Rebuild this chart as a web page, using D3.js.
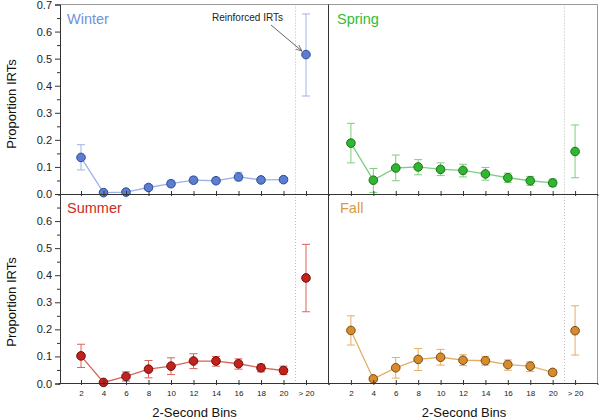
<!DOCTYPE html>
<html><head><meta charset="utf-8">
<script src="https://cdn.jsdelivr.net/npm/d3@7"></script>
<style>html,body{margin:0;padding:0;background:#fff;}svg{display:block;font-family:"Liberation Sans",Arial,sans-serif;}</style>
</head><body><svg id="c" width="600" height="420"></svg>
<script>
const bins = ["2","4","6","8","10","12","14","16","18","20","> 20"];
const yTicks = [0,0.1,0.2,0.3,0.4,0.5,0.6,0.7];
const seasons = ["Winter","Spring","Summer","Fall"];

const winterVals = [0.135,0.005,0.007,0.024,0.038,0.051,0.049,0.063,0.052,0.053,0.515];
const winterLo   = [0.089,0.002,0.003,0.014,0.028,0.042,0.041,0.049,0.045,0.045,0.362];
const winterHi   = [0.182,0.008,0.011,0.035,0.050,0.063,0.060,0.080,0.060,0.062,0.665];

const springVals = [0.188,0.051,0.096,0.100,0.091,0.087,0.074,0.060,0.049,0.041,0.157];
const springLo   = [0.115,0.006,0.049,0.071,0.068,0.063,0.051,0.043,0.032,0.028,0.060];
const springHi   = [0.261,0.094,0.144,0.127,0.115,0.110,0.098,0.077,0.065,0.055,0.255];

const summerVals = [0.102,0.004,0.026,0.053,0.064,0.083,0.083,0.073,0.058,0.048,0.390];
const summerLo   = [0.059,0.002,0.009,0.021,0.033,0.055,0.064,0.053,0.043,0.033,0.265];
const summerHi   = [0.145,0.006,0.043,0.085,0.095,0.110,0.100,0.091,0.071,0.064,0.514];

const fallVals = [0.196,0.017,0.058,0.089,0.097,0.086,0.084,0.070,0.064,0.041,0.195];
const fallLo   = [0.142,0.014,0.020,0.048,0.068,0.066,0.068,0.049,0.044,0.030,0.105];
const fallHi   = [0.250,0.020,0.096,0.129,0.126,0.106,0.100,0.087,0.080,0.052,0.287];

const annotationText = "Reinforced IRTs";
const yLabel = "Proportion IRTs";
const xLabel = "2-Second Bins";

const svg = d3.select("#c");

const panels = [
  {name:"Winter", vals:winterVals, lo:winterLo, hi:winterHi, col:0, row:0,
   text:"#6f93dc", line:"#9db3e6", fill:"#5b7ed1", stroke:"#2d4a95", lx:7},
  {name:"Spring", vals:springVals, lo:springLo, hi:springHi, col:1, row:0,
   text:"#33bb33", line:"#7dcf7d", fill:"#2fb82f", stroke:"#1b6e1b", lx:7},
  {name:"Summer", vals:summerVals, lo:summerLo, hi:summerHi, col:0, row:1,
   text:"#cc2b22", line:"#d9645a", fill:"#c4211b", stroke:"#6e1010", lx:7},
  {name:"Fall", vals:fallVals, lo:fallLo, hi:fallHi, col:1, row:1,
   text:"#d99a45", line:"#e6ad64", fill:"#d68b2c", stroke:"#7a4a10", lx:10}
];

const colX = [[58.5,328.5],[328.5,597.5]];
const rowY = [[194,4.5],[383.5,194]];

const defs = svg.append("defs");
defs.append("marker").attr("id","ah").attr("viewBox","0 0 10 10").attr("refX",10).attr("refY",5)
  .attr("markerWidth",7).attr("markerHeight",7).attr("orient","auto")
  .append("path").attr("d","M0,1 L10,5 L0,9").attr("fill","none").attr("stroke","#555").attr("stroke-width",1.2);

// frame
const g0 = svg.append("g");
g0.append("line").attr("x1",60).attr("x2",597.5).attr("y1",4.5).attr("y2",4.5).attr("stroke","#999");
g0.append("line").attr("x1",597.5).attr("x2",597.5).attr("y1",4.5).attr("y2",383.5).attr("stroke","#999");

const marksLayer = svg.append("g");
const axesLayer = svg.append("g");

panels.forEach(p => {
  const x = d3.scaleLinear().domain([0,12]).range(colX[p.col]);
  const y = d3.scaleLinear().domain([0,0.7]).range(rowY[p.row]);
  const g = marksLayer.append("g");
  const ga = axesLayer.append("g");

  // dotted separator
  g.append("line").attr("x1",Math.round(x(10.5))+0.5).attr("x2",Math.round(x(10.5))+0.5)
    .attr("y1",y(0.7)).attr("y2",y(0)).attr("stroke","#bbb").attr("stroke-dasharray","1,2");

  // error bars
  const idx = d3.range(bins.length);
  const eb = g.append("g").attr("stroke",p.line).attr("stroke-width",1).attr("fill","none");
  idx.forEach(i => {
    const cx = x(i+1);
    eb.append("line").attr("x1",cx).attr("x2",cx).attr("y1",y(p.lo[i])).attr("y2",y(p.hi[i]));
    eb.append("line").attr("x1",cx-4).attr("x2",cx+4).attr("y1",y(p.lo[i])).attr("y2",y(p.lo[i]));
    eb.append("line").attr("x1",cx-4).attr("x2",cx+4).attr("y1",y(p.hi[i])).attr("y2",y(p.hi[i]));
  });

  // line (bins 2..20)
  const lineGen = d3.line().x((d,i)=>x(i+1)).y(d=>y(d));
  g.append("path").datum(p.vals.slice(0,10)).attr("d",lineGen)
    .attr("fill","none").attr("stroke",p.line).attr("stroke-width",1.3);

  // markers
  g.selectAll("circle.pt").data(p.vals).join("circle").attr("class","pt")
    .attr("cx",(d,i)=>x(i+1)).attr("cy",d=>y(d)).attr("r",4.3)
    .attr("fill",p.fill).attr("stroke",p.stroke).attr("stroke-width",1);

  // x axis
  const y0 = Math.floor(y(0));
  const xa = d3.axisBottom(x).tickValues(d3.range(1,12)).tickSize(2).tickPadding(6)
    .tickFormat(p.row===1 ? (d=>bins[d-1]) : (()=>""));
  const xg = ga.append("g").attr("transform",`translate(0,${y0})`).call(xa);
  xg.attr("color","#222");
  xg.select(".domain").attr("stroke","#333");
  xg.selectAll(".tick line").attr("y1",-3).attr("y2",2).attr("stroke","#333");
  xg.selectAll(".tick text").attr("font-size",8).attr("dy",null).attr("y",13)
    .style("fill","#222").attr("font-family","Liberation Sans, Arial, sans-serif");

  // y axis / panel left border
  if (p.col===0) {
    const ya = d3.axisLeft(y).tickValues(yTicks).tickSize(5).tickPadding(3)
      .tickFormat(d => (p.row===1 && d>0.65) ? "" : d3.format(".1f")(d));
    const yg = ga.append("g").attr("transform","translate(60,0)").call(ya);
    yg.attr("color","#222");
    yg.select(".domain").attr("stroke","#333");
    yg.selectAll(".tick line").attr("stroke","#333");
    yg.selectAll(".tick text").attr("font-size",11).style("fill","#222").attr("font-family","Liberation Sans, Arial, sans-serif");
    const ym = d3.axisLeft(y).tickValues(d3.range(0.05,0.7,0.1)).tickSize(3).tickFormat(()=>"");
    const ymg = ga.append("g").attr("transform","translate(60,0)").call(ym);
    ymg.select(".domain").remove();
    ymg.selectAll(".tick line").attr("stroke","#333");

    ga.append("text").attr("transform",`translate(16,${p.row===0?104:302}) rotate(-90)`)
      .attr("text-anchor","middle").attr("font-size",13).attr("fill","#111").text(yLabel);
  } else {
    ga.append("line").attr("x1",328.5).attr("x2",328.5).attr("y1",y(0.7)).attr("y2",y(0)).attr("stroke","#333");
  }

  if (p.row===1) {
    ga.append("text").attr("x",(colX[p.col][0]+colX[p.col][1])/2+1).attr("y",417)
      .attr("text-anchor","middle").attr("font-size",13).attr("fill","#111").text(xLabel);
  }

  // season label
  ga.append("text").attr("x",colX[p.col][0]+1.5+p.lx).attr("y",y(0.7)+19)
    .attr("font-size",14.5).attr("fill",p.text).text(p.name);

  // annotation
  if (p.name==="Winter") {
    const px = x(11), py = y(p.vals[10]);
    ga.append("text").attr("x",247.5).attr("y",21).attr("text-anchor","middle")
      .attr("font-size",10).attr("fill","#222").text(annotationText);
    ga.append("line").attr("x1",271).attr("y1",25).attr("x2",px-4).attr("y2",py-3.5)
      .attr("stroke","#555").attr("stroke-width",0.9).attr("marker-end","url(#ah)");
  }
});
</script></body></html>
